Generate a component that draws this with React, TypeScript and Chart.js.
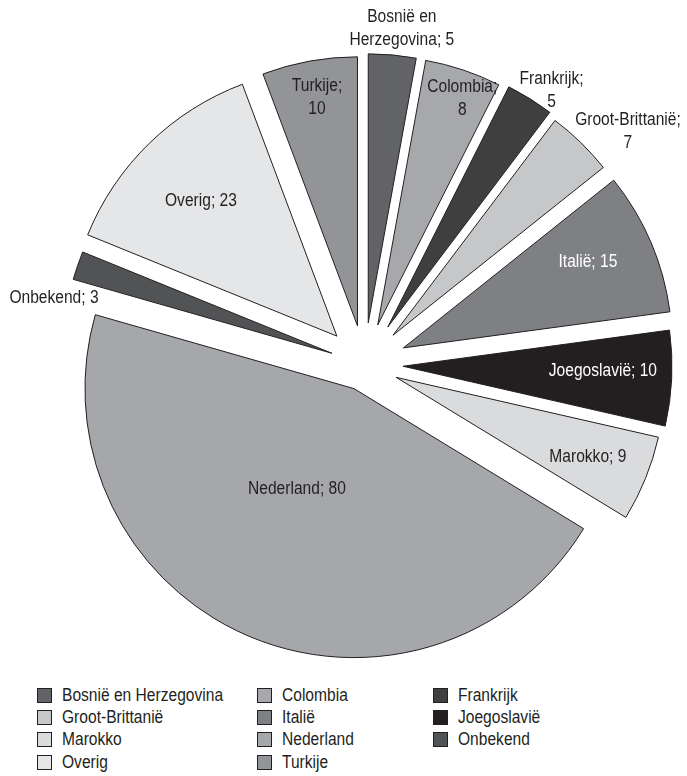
import React, { useEffect, useRef } from "react";
import { Chart, ArcElement, PieController } from "chart.js";

// ---------- data ----------
const categories = [
  "Bosnië en Herzegovina",
  "Colombia",
  "Frankrijk",
  "Groot-Brittanië",
  "Italië",
  "Joegoslavië",
  "Marokko",
  "Nederland",
  "Onbekend",
  "Overig",
  "Turkije",
];
const values = [5, 8, 5, 7, 15, 10, 9, 80, 3, 23, 10];

// ---------- styling ----------
const sliceColors = [
  "#626366",
  "#a7a8ab",
  "#3f3f40",
  "#c6c7c9",
  "#7f8084",
  "#231f20",
  "#dadbdd",
  "#a6a7aa",
  "#525355",
  "#e5e6e7",
  "#939497",
];
const sliceOffsets = [41.8, 41.6, 44.1, 40.9, 42.3, 38.5, 34.2, 26.3, 34.5, 39.6, 39.3];
const labelBreakAfter = ["Bosnië en", "Colombia;", "Frankrijk;", "Groot-Brittanië;", "", "", "", "", "", "", "Turkije;"];
const labelDist = [338, 283, 332, 351.6, 245.8, 238.5, 241.8, 141.8, 317.6, 231.2, 271.1];
const labelDelta = [1.2, 1.7, 2.4, 4.3, -1.5, -1.0, 0.4, 4.8, -6.9, -0.8, 0.2];
const labelColors = ["#231f20", "#231f20", "#231f20", "#231f20", "#ffffff", "#ffffff", "#231f20", "#231f20", "#231f20", "#231f20", "#231f20"];

const FONT = '"Liberation Sans", Arial, sans-serif';
const FS = 17.5;
const SX = 0.89;
const LH = 23;
const RADIUS = 269;

const legendColLeft = [37, 257, 433];
const legendFirstCenter = 695.5;
const legendPitch = 22.2;

function labelLines(i: number): string[] {
  const text = `${categories[i]}; ${values[i]}`;
  const b = labelBreakAfter[i];
  if (b && text.startsWith(b)) {
    return [b, text.slice(b.length).trim()];
  }
  return [text];
}

class FlatArc extends ArcElement {
  static id = "flatArc";
  draw(ctx: CanvasRenderingContext2D) {
    const p: any = (this as any).getProps(["x", "y", "startAngle", "endAngle", "outerRadius"]);
    const o: any = (this as any).options;
    const off = o.offset || 0;
    const mid = (p.startAngle + p.endAngle) / 2;
    const cx = p.x + Math.cos(mid) * off;
    const cy = p.y + Math.sin(mid) * off;
    ctx.save();
    ctx.beginPath();
    ctx.moveTo(cx, cy);
    ctx.arc(cx, cy, p.outerRadius, p.startAngle, p.endAngle);
    ctx.closePath();
    ctx.fillStyle = o.backgroundColor;
    ctx.fill();
    if (o.borderWidth) {
      ctx.lineWidth = o.borderWidth;
      ctx.strokeStyle = o.borderColor;
      ctx.lineJoin = "miter";
      ctx.stroke();
    }
    ctx.restore();
  }
}

class ExplodedPie extends PieController {
  static id = "explodedPie";
  static defaults = { dataElementType: "flatArc" };
}

Chart.register(ExplodedPie, FlatArc);

const labelPlugin = {
  id: "sliceLabels",
  afterDatasetsDraw(chart: any) {
    const meta = chart.getDatasetMeta(0);
    const ctx: CanvasRenderingContext2D = chart.ctx;
    ctx.save();
    ctx.font = `${FS}px ${FONT}`;
    ctx.textAlign = "center";
    ctx.textBaseline = "middle";
    meta.data.forEach((arc: any, i: number) => {
      const p = arc.getProps(["x", "y", "startAngle", "endAngle"]);
      const mid = (p.startAngle + p.endAngle) / 2 + (labelDelta[i] * Math.PI) / 180;
      const lx = p.x + Math.cos(mid) * labelDist[i];
      const ly = p.y + Math.sin(mid) * labelDist[i];
      const lines = labelLines(i);
      ctx.fillStyle = labelColors[i];
      lines.forEach((t, k) => {
        ctx.save();
        ctx.translate(lx, ly + (k - (lines.length - 1) / 2) * LH);
        ctx.scale(SX, 1);
        ctx.fillText(t, 0, 0);
        ctx.restore();
      });
    });
    ctx.restore();
  },
};

export default function App() {
  const ref = useRef<HTMLCanvasElement | null>(null);
  useEffect(() => {
    if (!ref.current) return;
    const chart = new Chart(ref.current, {
      type: "explodedPie" as any,
      data: {
        labels: categories,
        datasets: [
          {
            data: values,
            backgroundColor: sliceColors,
            borderColor: "#231f20",
            borderWidth: 1,
            offset: sliceOffsets,
            radius: RADIUS,
            clip: false,
          } as any,
        ],
      },
      options: {
        animation: false,
        responsive: false,
        maintainAspectRatio: false,
        events: [],
        radius: RADIUS,
        layout: { padding: { left: 42, top: 49, right: 0, bottom: 0 } },
        plugins: { legend: { display: false }, tooltip: { enabled: false } },
      } as any,
      plugins: [labelPlugin],
    });
    return () => chart.destroy();
  }, []);

  return (
    <div style={{ position: "absolute", left: 0, top: 0, width: 687, height: 776, background: "#fff", overflow: "hidden" }}>
      <canvas ref={ref} width={687} height={680} style={{ position: "absolute", left: 0, top: 0, width: 687, height: 680 }} />
      {categories.map((c, i) => {
        const row = Math.floor(i / 3);
        const col = i % 3;
        const cy = legendFirstCenter + row * legendPitch;
        return (
          <div key={c} style={{ position: "absolute", left: legendColLeft[col], top: cy - 11, height: 22, display: "flex", alignItems: "center", fontFamily: FONT, fontSize: FS, color: "#231f20", whiteSpace: "nowrap" }}>
            <span style={{ display: "inline-block", width: 13, height: 13, background: sliceColors[i], border: "1px solid #231f20", marginRight: 10, flex: "none" }} />
            <span style={{ display: "inline-block", transform: `scaleX(${SX})`, transformOrigin: "left center" }}>{c}</span>
          </div>
        );
      })}
    </div>
  );
}
